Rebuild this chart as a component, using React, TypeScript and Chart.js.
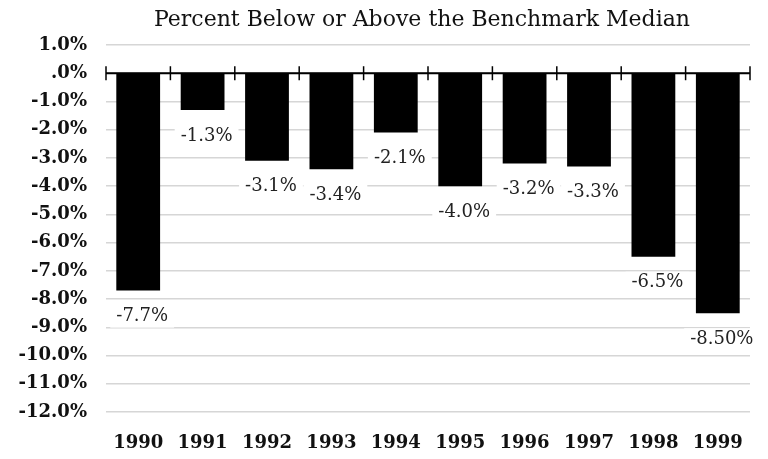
import React, { useEffect, useRef } from "react";
import { Chart, registerables } from "chart.js";

Chart.register(...registerables);

const categories = ["1990", "1991", "1992", "1993", "1994", "1995", "1996", "1997", "1998", "1999"];
const values = [-7.7, -1.3, -3.1, -3.4, -2.1, -4.0, -3.2, -3.3, -6.5, -8.5];
const valueLabels = ["-7.7%", "-1.3%", "-3.1%", "-3.4%", "-2.1%", "-4.0%", "-3.2%", "-3.3%", "-6.5%", "-8.50%"];
const titleText = "Percent Below or Above the Benchmark Median";

const FONT = "'DejaVu Serif', serif";

const titlePlugin = {
  id: "customTitle",
  afterDraw(chart: any) {
    const { ctx, chartArea } = chart;
    ctx.save();
    ctx.font = `22px ${FONT}`;
    ctx.fillStyle = "#111";
    ctx.textAlign = "center";
    ctx.textBaseline = "middle";
    ctx.fillText(titleText, (chartArea.left + chartArea.right) / 2 - 6, 20);
    ctx.restore();
  },
};

const zeroLinePlugin = {
  id: "zeroLine",
  afterDatasetsDraw(chart: any) {
    const { ctx, scales, chartArea } = chart;
    const y0 = scales.y.getPixelForValue(0);
    const x = scales.x;
    const step = x.getPixelForValue(1) - x.getPixelForValue(0);
    ctx.save();
    ctx.strokeStyle = "#000";
    ctx.lineWidth = 2;
    ctx.beginPath();
    ctx.moveTo(chartArea.left, y0);
    ctx.lineTo(chartArea.right, y0);
    ctx.stroke();
    ctx.lineWidth = 1.5;
    const n = categories.length;
    for (let i = 0; i <= n; i++) {
      const px = i < n ? x.getPixelForValue(i) - step / 2 : chartArea.right;
      ctx.beginPath();
      ctx.moveTo(px, y0 - 7);
      ctx.lineTo(px, y0 + 7);
      ctx.stroke();
    }
    ctx.restore();
  },
};

const dataLabelPlugin = {
  id: "dataLabels",
  afterDatasetsDraw(chart: any) {
    const { ctx } = chart;
    const meta = chart.getDatasetMeta(0);
    ctx.save();
    ctx.font = `18px ${FONT}`;
    ctx.textAlign = "center";
    ctx.textBaseline = "middle";
    meta.data.forEach((bar: any, i: number) => {
      const text = valueLabels[i];
      const cx = bar.x + 4;
      const cy = bar.y + 26;
      const w = ctx.measureText(text).width;
      ctx.fillStyle = "#fff";
      ctx.fillRect(cx - w / 2 - 6, cy - 11, w + 12, 22);
      ctx.fillStyle = "#222";
      ctx.fillText(text, cx, cy);
    });
    ctx.restore();
  },
};

export default function App() {
  const ref = useRef<HTMLCanvasElement>(null);
  useEffect(() => {
    if (!ref.current) return;
    const chart = new Chart(ref.current, {
      type: "bar",
      data: {
        labels: categories,
        datasets: [
          {
            data: values,
            backgroundColor: "#000",
            borderWidth: 0,
            barPercentage: 0.68,
            categoryPercentage: 1,
          },
        ],
      },
      options: {
        animation: false,
        responsive: true,
        maintainAspectRatio: false,
        layout: { padding: { left: 0, right: 18, top: 45, bottom: 0 } },
        plugins: {
          legend: { display: false },
          tooltip: { enabled: false },
          title: { display: false },
        },
        scales: {
          x: {
            grid: { display: false },
            border: { display: false },
            ticks: {
              color: "#111",
              font: { family: FONT, size: 18, weight: "bold" },
              padding: 13,
            },
            afterFit(scale: any) {
              scale.height = 47;
            },
          },
          y: {
            min: -12,
            max: 1,
            grid: { color: "#d6d6d6", lineWidth: 1.5, drawTicks: false },
            border: { display: false },
            ticks: {
              stepSize: 1,
              color: "#111",
              padding: 19,
              font: { family: FONT, size: 18, weight: "bold" },
              callback: (v: any) => (Number(v) === 0 ? ".0%" : Number(v).toFixed(1) + "%"),
            },
            afterFit(scale: any) {
              scale.width = 106;
            },
          },
        },
      },
      plugins: [zeroLinePlugin, dataLabelPlugin, titlePlugin],
    });
    return () => chart.destroy();
  }, []);
  return (
    <div style={{ position: "fixed", left: 0, top: 0, width: 768, height: 459, background: "#fff" }}>
      <canvas ref={ref} />
    </div>
  );
}
